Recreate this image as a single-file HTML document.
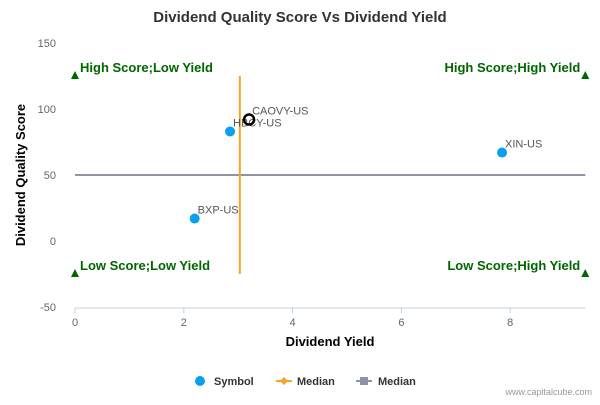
<!DOCTYPE html>
<html><head><meta charset="utf-8"><style>
body{margin:0;background:#fff;font-family:"Liberation Sans",sans-serif}
svg text{font-family:"Liberation Sans",sans-serif}
</style></head><body>
<svg id="c" width="600" height="400" xmlns="http://www.w3.org/2000/svg">
<text x="300" y="22" text-anchor="middle" font-size="15" font-weight="bold" fill="#333">Dividend Quality Score Vs Dividend Yield</text>
<text x="330" y="346" text-anchor="middle" font-size="13" font-weight="bold" fill="#000">Dividend Yield</text>
<text transform="translate(25,175) rotate(-90)" text-anchor="middle" font-size="13" font-weight="bold" fill="#000">Dividend Quality Score</text>
<g id="legend">
<g><circle cx="200" cy="381" r="5" fill="#0aa0ef"/><text x="214" y="385" font-size="11" font-weight="bold" fill="#333">Symbol</text></g>
<g><line x1="276" y1="381" x2="292" y2="381" stroke="#f7a428" stroke-width="2"/><path d="M284 377L288 381L284 385L280 381Z" fill="#f7a428"/><text x="297" y="385" font-size="11" font-weight="bold" fill="#333">Median</text></g>
<g><line x1="356" y1="381" x2="372" y2="381" stroke="#8e93a8" stroke-width="2"/><rect x="360" y="377" width="8" height="8" fill="#8e93a8"/><text x="378" y="385" font-size="11" font-weight="bold" fill="#333">Median</text></g>
</g>
<text x="592" y="395" text-anchor="end" font-size="9" fill="#999">www.capitalcube.com</text>
</svg>
<script>
const names=["BXP-US","HBCY-US","CAOVY-US","XIN-US"];
const yields=[2.2,2.85,3.2,7.85];
const scores=[17,83,92,67];
const highlight=[false,false,true,false];
const medianYield=3.03, medianScore=50;
const xTicks=[0,2,4,6,8];
const yTicks=[-50,0,50,100,150];
const quadLabels=["High Score;Low Yield","High Score;High Yield","Low Score;Low Yield","Low Score;High Yield"];
const X=v=>75+v*54.4, Y=v=>241-v*1.32;
const xMax=9.38;
const svg=document.getElementById('c');const NS="http://www.w3.org/2000/svg";
function mk(t,a,p){const e=document.createElementNS(NS,t);for(const k in a)e.setAttribute(k,a[k]);(p||svg).appendChild(e);return e;}
yTicks.forEach(v=>{const t=mk('text',{x:56,y:Y(v)+4,'text-anchor':'end','font-size':11,fill:'#666'});t.textContent=v;

});
const ax=mk('line',{x1:75,y1:308,x2:X(xMax),y2:308,stroke:'#c0d0e0'});


xTicks.forEach(v=>{mk('line',{x1:X(v),y1:308,x2:X(v),y2:313,stroke:'#c0d0e0'});const t=mk('text',{x:X(v),y:326,'text-anchor':'middle','font-size':11,fill:'#666'});t.textContent=v;

});
const hm=mk('line',{x1:X(0),y1:Y(medianScore),x2:X(xMax),y2:Y(medianScore),stroke:'#8e93a8','stroke-width':2});


const vm=mk('line',{x1:X(medianYield),y1:Y(-25),x2:X(medianYield),y2:Y(125),stroke:'#f7a428','stroke-width':2});


const corners=[[0,125,'start'],[xMax,125,'end'],[0,-25,'start'],[xMax,-25,'end']];
corners.forEach((c,i)=>{const x=X(c[0]),y=Y(c[1]);
const tr=mk('path',{d:`M${x} ${y-5}L${x+4} ${y+3}L${x-4} ${y+3}Z`,fill:'#006600'});


const t=mk('text',{x:c[2]=='start'?x+5:x-5,y:y-4,'text-anchor':c[2],'font-size':13,'font-weight':'bold',fill:'#006600'});t.textContent=quadLabels[i];

});
names.forEach((n,i)=>{const x=X(yields[i]),y=Y(scores[i]);
let p;
if(highlight[i])p=mk('circle',{cx:x,cy:y,r:5,fill:'none',stroke:'#000','stroke-width':2.5});
else p=mk('circle',{cx:x,cy:y,r:5,fill:'#0aa0ef'});


const t=mk('text',{x:x+3,y:y-5,'font-size':11,fill:'#555'});t.textContent=n;

});
</script>
</body></html>
